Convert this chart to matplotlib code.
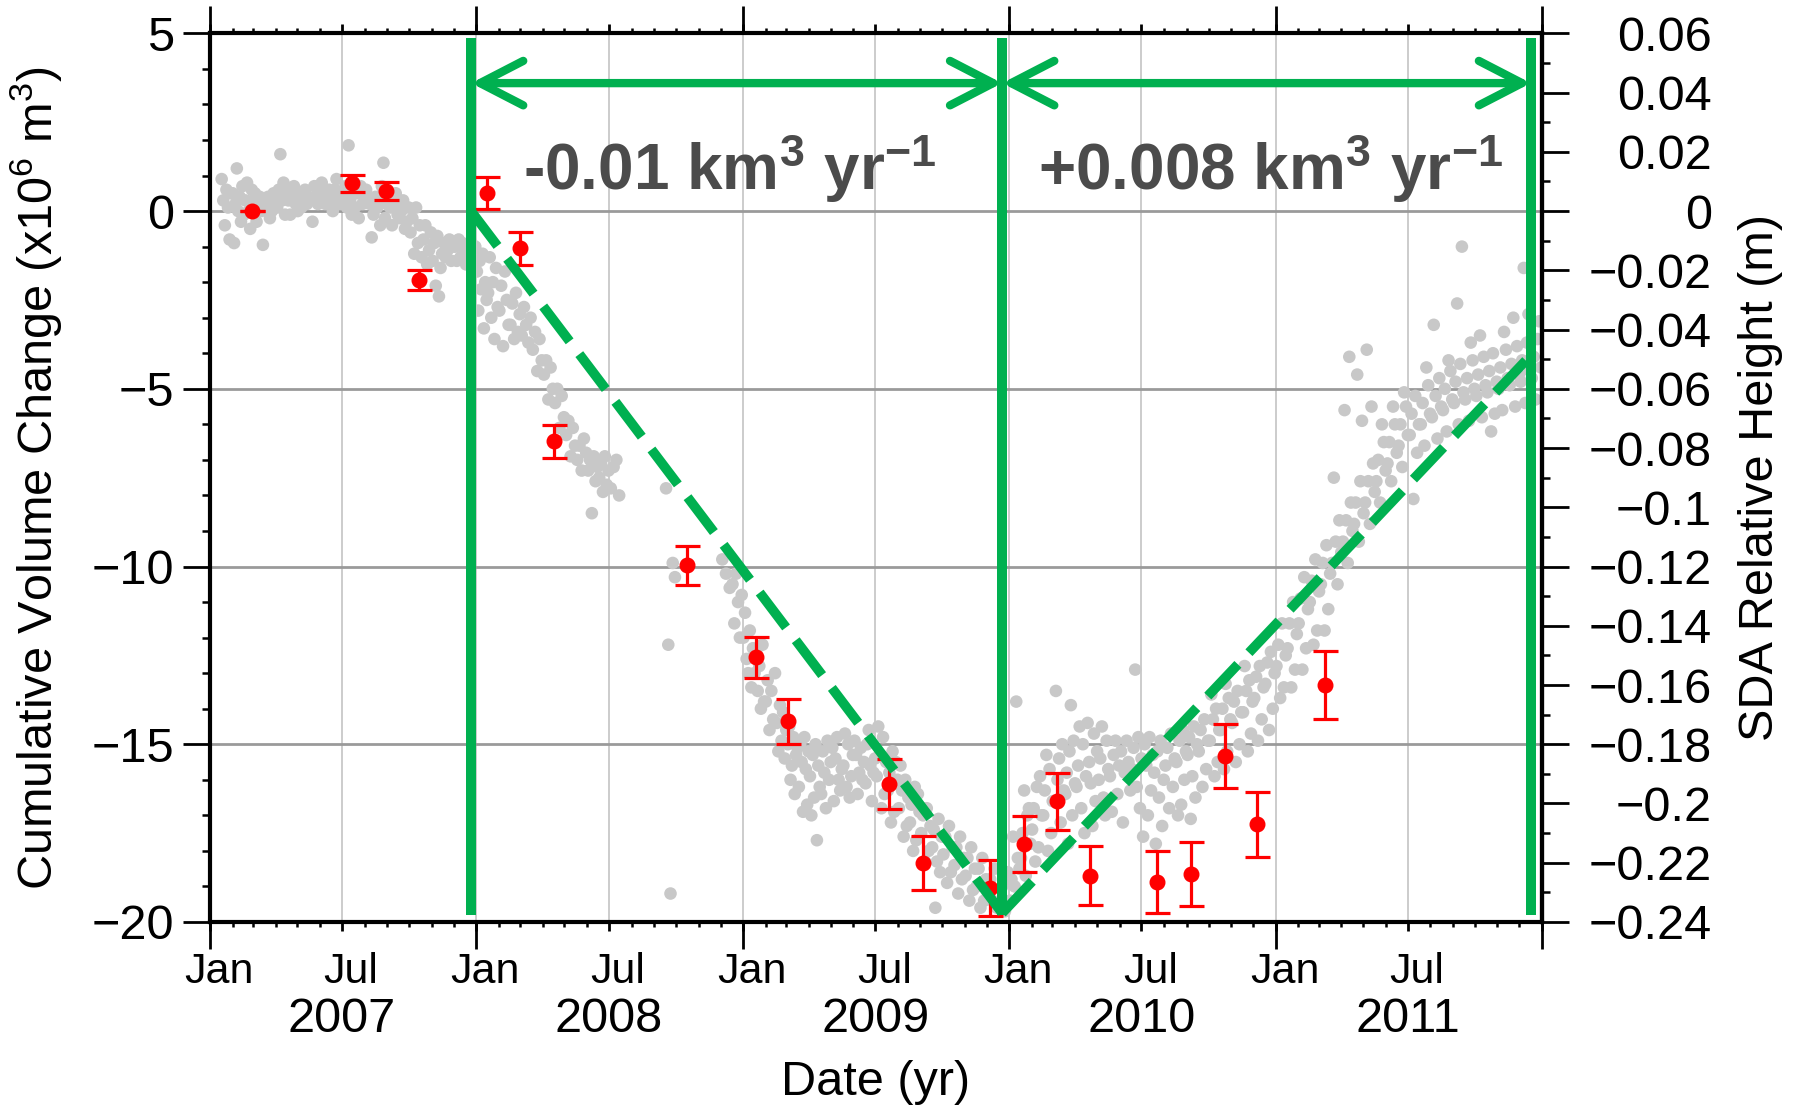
import numpy as np
import matplotlib
matplotlib.use("Agg")
import matplotlib.pyplot as plt
import matplotlib.dates as mdates
from matplotlib.ticker import MultipleLocator, FuncFormatter, NullLocator
from matplotlib.patches import FancyArrowPatch, ArrowStyle
from matplotlib.transforms import blended_transform_factory, ScaledTranslation

plt.rcParams['font.family'] = ['Liberation Sans', 'DejaVu Sans']
plt.rcParams['mathtext.fontset'] = 'custom'
plt.rcParams['mathtext.rm'] = 'Liberation Sans'
plt.rcParams['mathtext.it'] = 'Liberation Sans:italic'
plt.rcParams['mathtext.bf'] = 'Liberation Sans:bold'

# ---------------- data ----------------
# SDA (gray) series: half-month bins starting 2007-01-16, values in 10^6 m^3
gray_start = '2007-01-16'
gray_bin_days = 365.25 / 24
gray_bins = [
    [0.9, 0.3, -0.4, 0.6, 0.1, -0.8, 0.5],
    [0.5, -0.9, 0.2, 1.2, 0.0, 0.4, -0.3, 0.7],
    [-0.1, 0.3, 0.8, 0.0, -0.5, 0.6, 0.2],
    [0.5, -0.3, 0.1, 0.4, 0.0, -0.95, 0.2],
    [0.2, 0.4, -0.2, 0.0, 0.5, 0.3],
    [0.1, 0.6, 1.6, 0.3, 0.8, -0.1, 0.5],
    [0.3, -0.1, 0.4, 0.7, 0.2, 0.0],
    [0.5, 0.1, 0.3, 0.6, 0.2, 0.4],
    [0.3, -0.3, 0.7, 0.4, 0.2, 0.5],
    [0.8, 0.4, 0.2, 0.5, 0.6, 0.3],
    [0.0, 0.6, 0.9, 0.3, 0.2, 0.5],
    [0.4, 0.7, 0.1, 1.85, 0.3, -0.1, 0.6],
    [0.1, 0.5, -0.2, 0.7, 0.2, 0.4],
    [0.6, 0.3, 0.2, -0.74, -0.1, 0.4],
    [0.1, 0.4, -0.4, 0.7, 1.36, -0.2, 0.2],
    [0.3, 0.1, -0.4, 0.2, 0.5, -0.1],
    [-0.2, 0.0, 0.3, -0.5, -0.3, 0.1],
    [-0.6, -0.2, -1.2, 0.1, -0.9, -0.4],
    [-1.3, -0.8, -0.4, -1.5, -1.1, -0.6],
    [-1.4, -0.9, -2.1, -0.7, -2.4, -1.6, -1.2],
    [-0.9, -1.3, -1.1, -0.8, -1.4, -1.0],
    [-1.0, -1.4, -0.8, -1.3, -0.9, -1.2],
    [-1.5, -1.1, -1.3, -0.9, -1.4, -1.0],
    [-1.7, -2.8, -1.4, -2.2, -1.2, -3.3, -2.0, -2.5],
    [-2.3, -1.3, -3.0, -2.0, -3.6, -1.6, -2.7],
    [-2.8, -2.1, -3.8, -1.7, -2.5, -3.2],
    [-3.2, -2.6, -3.6, -2.3, -3.4, -2.9],
    [-3.5, -2.7, -3.2, -3.7, -3.0],
    [-3.9, -3.4, -4.5, -3.6, -4.2],
    [-4.6, -4.2, -5.3, -4.4, -5.0],
    [-5.4, -5.0, -6.1, -5.2, -5.8],
    [-6.3, -5.9, -6.9, -6.1, -6.6],
    [-7.0, -6.6, -7.3, -6.4, -6.8],
    [-7.3, -7.0, -8.5, -6.9, -7.6, -7.2],
    [-7.5, -7.1, -7.9, -6.9, -7.7, -7.3],
    [-7.8, -7.2, -7.0, -8.0],
    [], [], [], [],
    [-7.8, -12.2, -19.2, -9.9, -10.3],
    [], [], [], [],
    [-9.8, -10.2, -10.6],
    [-10.5, -11.6, -10.2, -11.0, -12.0, -10.8],
    [-12.0, -11.3, -12.6, -13.0, -11.8, -13.4, -12.3],
    [-13.0, -12.4, -13.5, -12.8, -14.0, -12.2, -13.8],
    [-13.8, -13.2, -14.6, -13.5, -14.3, -13.0],
    [-14.4, -15.2, -13.9, -14.9, -14.1, -15.4, -14.6],
    [-15.0, -14.5, -16.0, -15.6, -14.8, -16.4, -15.3, -15.1],
    [-16.2, -15.0, -15.5, -16.9, -14.8, -15.7, -16.7, -15.2],
    [-15.9, -17.0, -15.3, -16.5, -15.0, -17.7, -15.6, -16.2],
    [-16.4, -15.2, -15.8, -16.8, -14.9, -16.0, -15.5],
    [-15.1, -16.6, -15.4, -14.8, -16.0, -16.3, -15.7],
    [-15.6, -14.7, -16.2, -15.0, -16.5, -15.9, -15.3],
    [-14.9, -15.3, -16.4, -15.8, -15.1, -16.0, -15.5],
    [-16.1, -15.0, -14.6, -15.6, -16.6, -15.8, -15.4],
    [-15.9, -14.5, -15.3, -16.8, -14.8, -16.4, -15.5],
    [-16.3, -15.8, -17.2, -15.2, -16.9, -15.5, -16.0],
    [-16.8, -15.6, -16.3, -17.6, -16.0, -17.3, -16.5],
    [-17.2, -16.7, -18.0, -16.2, -17.7, -16.4, -16.9],
    [-17.5, -17.0, -18.3, -16.8, -18.0, -17.3],
    [-17.9, -17.4, -19.6, -18.3, -17.1, -18.6, -17.6],
    [-18.1, -17.6, -18.9, -17.3, -18.6, -17.9],
    [-18.4, -17.9, -19.2, -17.6, -18.8, -18.2],
    [-18.7, -18.2, -19.4, -17.9, -19.1, -18.5],
    [-19.0, -18.5, -19.6, -18.2, -19.4, -18.8],
    [-19.2, -18.8, -19.4, -18.5, -19.6],
    [-19.5, -19.0, -19.7, -18.6],
    [-19.4, -18.8, -17.6, -19.0, -13.8, -18.2, -18.5],
    [-18.2, -17.5, -16.3, -18.7, -17.0, -16.8, -17.8],
    [-17.4, -16.8, -18.3, -16.2, -17.9, -15.9, -17.0],
    [-17.0, -16.3, -15.3, -18.0, -15.7, -17.5, -16.6],
    [-16.6, -13.5, -16.0, -15.4, -17.2, -15.0, -16.3],
    [-16.4, -15.8, -17.8, -15.2, -13.9, -17.0, -14.9, -16.1],
    [-16.2, -15.6, -14.5, -16.8, -15.0, -17.5, -15.9],
    [-14.4, -15.5, -16.1, -17.3, -14.7, -16.6, -15.2],
    [-16.0, -15.4, -14.5, -16.5, -17.0, -14.9, -15.7],
    [-15.9, -16.9, -15.3, -14.9, -16.4, -15.6],
    [-15.2, -17.2, -15.8, -14.9, -15.5, -16.3],
    [-15.7, -15.1, -12.9, -16.2, -14.8, -16.8, -15.4],
    [-17.6, -15.0, -15.6, -17.0, -14.8, -16.3, -15.3],
    [-15.8, -17.8, -15.2, -16.5, -14.9, -17.3, -16.0],
    [-15.6, -15.1, -16.8, -14.7, -16.2, -15.4],
    [-15.5, -17.0, -14.9, -16.7, -14.6, -16.0, -15.2],
    [-15.3, -14.8, -17.1, -15.9, -14.5, -16.5, -15.0],
    [-15.2, -14.6, -16.2, -14.3, -15.7, -14.9],
    [-14.9, -13.6, -14.3, -15.9, -14.0, -15.5, -14.6],
    [-14.6, -14.0, -15.7, -13.3, -15.2, -13.7, -14.3],
    [-14.4, -13.8, -15.5, -13.5, -15.0, -14.1],
    [-14.1, -12.8, -13.5, -15.2, -13.2, -14.7, -13.8],
    [-13.7, -13.1, -14.9, -12.8, -14.3, -13.4],
    [-13.3, -12.7, -14.6, -12.4, -14.0, -13.0],
    [-12.8, -12.2, -13.7, -11.6, -13.4, -12.5],
    [-12.3, -11.6, -13.4, -11.0, -12.9, -11.9],
    [-11.6, -10.9, -12.9, -10.3, -12.3, -11.2],
    [-11.0, -10.4, -12.2, -9.8, -11.8, -10.7],
    [-10.5, -9.9, -11.8, -9.4, -11.2, -10.2],
    [-9.9, -7.5, -9.3, -10.5, -8.7, -9.6],
    [-9.3, -5.6, -8.7, -9.9, -4.1, -8.2, -9.0],
    [-8.8, -8.2, -4.6, -9.3, -7.6, -5.9, -8.5],
    [-8.2, -3.9, -7.6, -8.8, -5.5, -7.1, -7.9],
    [-7.6, -7.0, -8.2, -6.0, -6.5, -7.3],
    [-7.1, -6.5, -7.6, -5.5, -6.0, -6.8],
    [-6.6, -6.0, -7.2, -5.1, -5.5, -6.3],
    [-6.3, -5.7, -8.1, -5.2, -6.8, -6.0],
    [-6.0, -5.4, -6.6, -4.4, -4.9, -5.7],
    [-5.8, -3.2, -5.2, -6.4, -4.7, -5.5],
    [-5.6, -5.0, -6.2, -4.2, -4.5, -5.3],
    [-5.4, -4.8, -2.6, -6.0, -4.3, -1.0, -5.1],
    [-5.3, -4.7, -5.9, -3.7, -4.2, -5.0],
    [-5.2, -4.6, -3.5, -5.8, -4.1, -4.9],
    [-5.1, -4.5, -6.2, -4.0, -5.7, -4.8],
    [-5.0, -4.4, -5.6, -3.4, -3.9, -4.7],
    [-4.9, -4.3, -3.0, -5.5, -3.8, -4.6],
    [-4.8, -4.2, -1.6, -5.4, -3.7, -2.9, -4.5],
    [-4.7, -4.1, -5.3, -3.6, -3.1, -4.4],
]

# Red points with error bars
red_dates = ['2007-02-27', '2007-07-15', '2007-08-30', '2007-10-15',
             '2008-01-16', '2008-03-01', '2008-04-16', '2008-10-16',
             '2009-01-18', '2009-03-04', '2009-07-20', '2009-09-04',
             '2009-12-05', '2010-01-21', '2010-03-07', '2010-04-22',
             '2010-07-22', '2010-09-07', '2010-10-23', '2010-12-07',
             '2011-03-09']
red_volume = [0.0, 0.78, 0.56, -1.94, 0.5, -1.05, -6.48, -9.97,
              -12.55, -14.36, -16.12, -18.34, -19.05, -17.8, -16.61, -18.7,
              -18.88, -18.65, -15.33, -17.25, -13.34]
red_error = [0.0, 0.24, 0.26, 0.29, 0.45, 0.46, 0.47, 0.55,
             0.58, 0.62, 0.71, 0.75, 0.78, 0.79, 0.81, 0.83,
             0.87, 0.89, 0.9, 0.92, 0.95]

# Period boundaries and trend values
period_edges = ['2007-12-25', '2009-12-22', '2011-12-17']
trend_values = [0.0, -19.75, -4.05]
rate_labels = ['-0.01 km$^{\\mathbf{3}}$ yr$^{\\mathbf{-1}}$',
               '+0.008 km$^{\\mathbf{3}}$ yr$^{\\mathbf{-1}}$']
rate_label_dates = ['2008-12-13', '2010-12-25']

year_labels = ['2007', '2008', '2009', '2010', '2011']
x_limits = ['2007-01-01', '2012-01-01']
y_limits = [-20, 5]
height_limits = [-0.24, 0.06]


def d2n(s):
    return mdates.date2num(np.datetime64(s))


# build gray series x/y
g0 = d2n(gray_start)
gx, gy = [], []
for k, vals in enumerate(gray_bins):
    n = len(vals)
    for i, v in enumerate(vals):
        gx.append(g0 + k * gray_bin_days + (i + 0.5) / n * gray_bin_days)
        gy.append(v)

rx = [d2n(d) for d in red_dates]
ex = [d2n(d) for d in period_edges]

GREEN = '#00b050'

fig = plt.figure(figsize=(18.02, 11.08), dpi=100)
ax = fig.add_axes([0.1165, 0.1679, 0.7392, 0.802])
ax.set_xlim(d2n(x_limits[0]), d2n(x_limits[1]))
ax.set_ylim(*y_limits)
ax.set_axisbelow(True)

# grid
ax.xaxis.grid(True, which='major', color='#c8c8c8', lw=1.3)
ax.yaxis.grid(True, which='major', color='#9a9a9a', lw=2.0)

# gray scatter
ax.scatter(gx, gy, s=82, color='#c8c8c8', edgecolors='none', zorder=2)

# red error bars
ax.errorbar(rx, red_volume, yerr=red_error, fmt='o', color='#ff0000',
            ms=10.5, elinewidth=2.3, capsize=9, capthick=2.3, zorder=4)

# green vertical lines
for x in ex:
    ax.plot([x, x], [-19.8, 4.86], color=GREEN, lw=7.2,
            solid_capstyle='butt', zorder=5)

# dashed trends
for i in range(2):
    ax.plot([ex[i], ex[i + 1]], [trend_values[i], trend_values[i + 1]],
            color=GREEN, lw=7, dashes=(4.5, 1.65), dash_capstyle='butt',
            zorder=5)

# arrows
for i in range(2):
    arr = FancyArrowPatch((ex[i], 3.6), (ex[i + 1], 3.6),
                          arrowstyle=ArrowStyle('<->', head_length=31,
                                                head_width=16),
                          mutation_scale=1, lw=6, color=GREEN,
                          shrinkA=0, shrinkB=0, capstyle='round',
                          joinstyle='round', zorder=6)
    ax.add_patch(arr)

# rate labels
for lab, d in zip(rate_labels, rate_label_dates):
    ax.text(d2n(d), 0.6, lab, ha='center', va='baseline', fontsize=46,
            fontweight='bold', color='#4b4b4b', zorder=7)

# ---- x axis ticks ----
def month_fmt(x, pos):
    dt = mdates.num2date(x)
    if dt.year >= 2012:
        return ''
    return dt.strftime('%b')

ax.xaxis.set_major_locator(mdates.MonthLocator(bymonth=[1, 7]))
ax.xaxis.set_major_formatter(FuncFormatter(month_fmt))
ax.xaxis.set_minor_locator(mdates.MonthLocator())
ax.tick_params(axis='x', which='major', length=6.5, width=2, direction='out',
               top=True, bottom=True, labelsize=31, pad=15)
ax.tick_params(axis='x', which='minor', length=3.5, width=1.8,
               direction='out', top=True, bottom=True)

# year labels
trans = blended_transform_factory(ax.transData, ax.transAxes)
for y in year_labels:
    ax.text(d2n(f'{y}-07-01'), -0.085, y, transform=trans, ha='center',
            va='top', fontsize=35)

# ---- y axis ticks ----
ax.yaxis.set_major_locator(MultipleLocator(5))
ax.yaxis.set_minor_locator(MultipleLocator(1))
ax.tick_params(axis='y', which='major', length=19.5, width=2,
               direction='out', labelsize=35, pad=6, left=True, right=False)
ax.tick_params(axis='y', which='minor', length=5.8, width=1.8,
               direction='out', left=True, right=False)

for s in ax.spines.values():
    s.set_linewidth(3)

ax.set_ylabel('Cumulative Volume Change (x10$^6$ m$^3$)', fontsize=35)
ax.yaxis.set_label_coords(-0.1096, 0.5)
ax.set_xlabel('Date (yr)', fontsize=35)
ax.xaxis.set_label_coords(0.5, -0.155)

# ---- right axis ----
ax2 = ax.twinx()
ax2.set_ylim(*height_limits)
ax2.yaxis.set_major_locator(MultipleLocator(0.02))
ax2.yaxis.set_minor_locator(MultipleLocator(0.01))


def hfmt(v, pos):
    v = round(v, 2)
    if abs(v) < 1e-9:
        return '0'
    return ('%g' % v).replace('-', '\u2212')


ax2.yaxis.set_major_formatter(FuncFormatter(hfmt))
ax2.tick_params(axis='y', which='major', length=19.5, width=2,
                direction='out', labelsize=35, pad=103)
ax2.tick_params(axis='y', which='minor', length=5.8, width=1.8,
                direction='out')
for s in ['left', 'top', 'bottom']:
    ax2.spines[s].set_visible(False)
ax2.spines['right'].set_linewidth(3)
ax2.set_ylabel('SDA Relative Height (m)', fontsize=35, rotation=90)
ax2.yaxis.set_label_coords(1.1471, 0.5)
fig.canvas.draw()
for lab in ax2.get_yticklabels():
    lab.set_horizontalalignment('right')
shift = ScaledTranslation(0.09, 0, fig.dpi_scale_trans)
for lab in ax.get_xticklabels():
    lab.set_transform(lab.get_transform() + shift)

# ---- long Jan ticks overlay ----
ax3 = fig.add_axes(ax.get_position().bounds, facecolor='none', label='jan')
ax3.set_xlim(ax.get_xlim())
ax3.set_ylim(0, 1)
ax3.xaxis.set_major_locator(mdates.YearLocator())
ax3.xaxis.set_minor_locator(NullLocator())
ax3.tick_params(axis='x', which='major', length=19.5, width=2,
                direction='out', top=True, bottom=True,
                labelbottom=False, labeltop=False)
ax3.set_yticks([])
for s in ax3.spines.values():
    s.set_visible(False)

fig.savefig('out.png', dpi=100)
